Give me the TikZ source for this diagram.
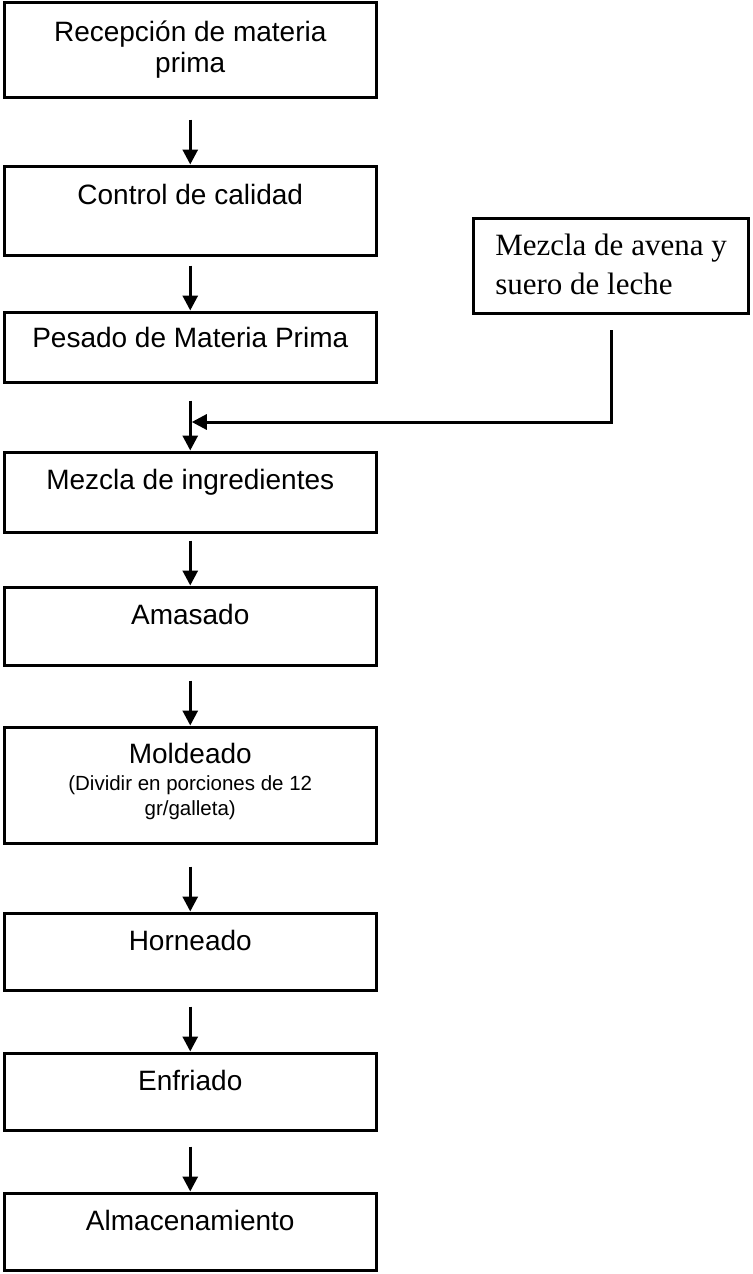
\documentclass[tikz,border=0pt]{standalone}
\usepackage{fontspec}
\setmainfont{Liberation Sans}
\newfontfamily\timesfont{Liberation Serif}
\usetikzlibrary{arrows.meta}

\newcommand{\subtxt}{\fontsize{10.25pt}{12.5pt}\selectfont}

\tikzset{
    stepbox/.style={draw, line width=1.5pt, inner sep=0pt, minimum width=185.75pt,
      anchor=north, align=center, font=\fontsize{14pt}{15.5pt}\selectfont},
    sidebox/.style={draw, line width=1.5pt, inner sep=0pt, minimum width=137.5pt,
      anchor=north, align=left, font=\timesfont\fontsize{15.5pt}{19.5pt}\selectfont},
    flowline/.style={->, line width=1.5pt},
}

\begin{document}
\begin{tikzpicture}[x=0.5pt, y=-0.5pt, >={Triangle[length=7.5pt,width=7.5pt]}]
    \useasboundingbox (0,0) rectangle (752,1274);
    % main column, tops in px (text height = baseline of the last line)
    \node[stepbox, text height=35pt, text depth=12.5pt] (recep) at (190.25,0.5)
      {Recepción de materia\\prima};
    \node[stepbox, text height=19pt, text depth=25.5pt] (ctrl) at (190.25,164.5)
      {Control de calidad};
    \node[stepbox, text height=17.5pt, text depth=17.5pt] (pesado) at (190.25,310.5)
      {Pesado de Materia Prima};
    \node[stepbox, text height=18.5pt, text depth=21.5pt] (mezcla) at (190.25,450.5)
      {Mezcla de ingredientes};
    \node[stepbox, text height=18.5pt, text depth=20.5pt] (amasado) at (190.25,585.5)
      {Amasado};
    \node[stepbox, text height=44pt, text depth=14pt] (molde) at (190.25,725.5)
      {Moldeado\\[-2pt]{\subtxt(Dividir en porciones de 12}\\[-3pt]{\subtxt gr/galleta)}};
    \node[stepbox, text height=18.5pt, text depth=20pt] (horno) at (190.25,911.5)
      {Horneado};
    \node[stepbox, text height=18.5pt, text depth=20pt] (enfriado) at (190.25,1051.5)
      {Enfriado};
    \node[stepbox, text height=18.5pt, text depth=20pt] (almacen) at (190.25,1191.5)
      {Almacenamiento};

    % side input
    \node[sidebox, text height=37.75pt, text depth=9.75pt] (avena) at (611,217)
      {Mezcla de avena y\\suero de leche};

    \foreach \b in {ctrl,pesado,amasado,molde,horno,enfriado,almacen}
      \draw[flowline] ([yshift=22.5pt]\b.north) -- (\b.north);
    \draw[flowline] ([yshift=25pt]mezcla.north) -- (mezcla.north);

    \coordinate (join) at ([xshift=0.75pt]mezcla.north |- 0,422);
    \draw[flowline] ([yshift=-7.5pt]avena.south) |- (join);
\end{tikzpicture}
\end{document}
